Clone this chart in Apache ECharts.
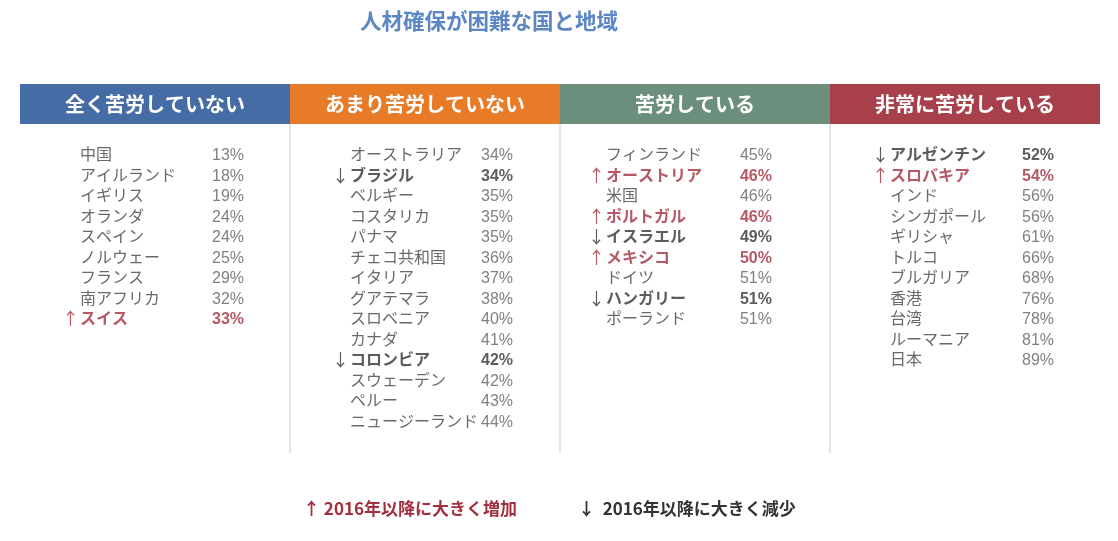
<!DOCTYPE html>
<html>
<head>
<meta charset="utf-8">
<script src="https://cdn.jsdelivr.net/npm/echarts@6/dist/echarts.min.js"></script>
<style>html,body{margin:0;padding:0;background:#fff;}#c{width:1118px;height:541px;}</style>
</head>
<body>
<div id="c"></div>
<script>
// ---- data ----
const categories = ['全く苦労していない', 'あまり苦労していない', '苦労している', '非常に苦労している'];
const headerValues = [1, 1, 1, 1];

const names1 = ['中国', 'アイルランド', 'イギリス', 'オランダ', 'スペイン', 'ノルウェー', 'フランス', '南アフリカ', 'スイス'];
const values1 = [13, 18, 19, 24, 24, 25, 29, 32, 33];
const trend1 = ['', '', '', '', '', '', '', '', 'up'];

const names2 = ['オーストラリア', 'ブラジル', 'ベルギー', 'コスタリカ', 'パナマ', 'チェコ共和国', 'イタリア', 'グアテマラ', 'スロベニア', 'カナダ', 'コロンビア', 'スウェーデン', 'ペルー', 'ニュージーランド'];
const values2 = [34, 34, 35, 35, 35, 36, 37, 38, 40, 41, 42, 42, 43, 44];
const trend2 = ['', 'down', '', '', '', '', '', '', '', '', 'down', '', '', ''];

const names3 = ['フィンランド', 'オーストリア', '米国', 'ポルトガル', 'イスラエル', 'メキシコ', 'ドイツ', 'ハンガリー', 'ポーランド'];
const values3 = [45, 46, 46, 46, 49, 50, 51, 51, 51];
const trend3 = ['', 'up', '', 'up', 'down', 'up', '', 'down', ''];

const names4 = ['アルゼンチン', 'スロバキア', 'インド', 'シンガポール', 'ギリシャ', 'トルコ', 'ブルガリア', '香港', '台湾', 'ルーマニア', '日本'];
const values4 = [52, 54, 56, 56, 61, 66, 68, 76, 78, 81, 89];
const trend4 = ['down', 'up', '', '', '', '', '', '', '', '', ''];

const legendUp = '2016年以降に大きく増加';
const legendDown = '2016年以降に大きく減少';

// ---- styles / layout ----
const headerColors = ['#456ca5', '#e77b28', '#6c8e7d', '#a8404b'];
const RED = '#a3303e', DARK = '#333333', NAME = '#444444', PCT = '#606060';
const JP = '"Noto Sans CJK JP", sans-serif';
const LAT = '"Liberation Sans", Arial, sans-serif';
const nameX = [0.222, 0.222, 0.170, 0.222];
const pctX = [0.830, 0.826, 0.785, 0.830];

const cols = [
  [names1, values1, trend1],
  [names2, values2, trend2],
  [names3, values3, trend3],
  [names4, values4, trend4]
];

const nameData = [], pctData = [], arrowData = [];
cols.forEach(([names, vals, trend], c) => {
  names.forEach((n, i) => {
    const t = trend[i];
    const color = t === 'up' ? RED : (t === 'down' ? DARK : NAME);
    const bold = t ? 'bold' : 'normal';
    nameData.push({ value: [c + nameX[c], i], name: n,
      label: { color: color, fontWeight: bold } });
    pctData.push({ value: [c + pctX[c], i], name: vals[i] + '%',
      label: { color: t === 'up' ? RED : (t === 'down' ? DARK : PCT), fontWeight: bold } });
    if (t) {
      arrowData.push({ value: [c + nameX[c], i], name: t === 'up' ? '↑' : '↓',
        label: { color: t === 'up' ? RED : DARK } });
    }
  });
});

const chart = echarts.init(document.getElementById('c'), null, { renderer: 'canvas' });
chart.setOption({
  backgroundColor: '#ffffff',
  animation: false,
  title: {
    text: '人材確保が困難な国と地域',
    left: 355, top: 5,
    textStyle: { fontFamily: JP, fontSize: 21.5, fontWeight: 'bold', color: '#5b87c4' }
  },
  grid: [
    { left: 20, right: 18, top: 84, height: 40 },
    { left: 20, right: 18, top: 124, height: 329 }
  ],
  xAxis: [
    { type: 'category', gridIndex: 0, data: categories, show: false, boundaryGap: true },
    { type: 'value', gridIndex: 1, min: 0, max: 4, show: false }
  ],
  yAxis: [
    { type: 'value', gridIndex: 0, min: 0, max: 1, show: false },
    { type: 'value', gridIndex: 1, inverse: true, min: -1.512, max: 14.537, show: false }
  ],
  graphic: [
    { type: 'text', left: 303, top: 500,
      style: { text: '↑ ' + legendUp, fill: RED, font: 'bold 17px ' + JP } },
    { type: 'text', left: 578, top: 500,
      style: { text: '↓  ' + legendDown, fill: DARK, font: 'bold 17px ' + JP } }
  ],
  series: [
    {
      type: 'bar', xAxisIndex: 0, yAxisIndex: 0,
      data: headerValues.map((v, i) => ({ value: v, itemStyle: { color: headerColors[i] } })),
      barWidth: '100%', barCategoryGap: 0, silent: true,
      label: { show: true, position: 'inside', formatter: '{b}', color: '#fff',
        fontFamily: JP, fontSize: 20, fontWeight: 'bold' }
    },
    {
      type: 'scatter', xAxisIndex: 1, yAxisIndex: 1, data: nameData,
      symbolSize: 0, silent: true,
      label: { show: true, position: 'right', distance: 0, offset: [0, -1], formatter: '{b}',
        fontFamily: JP, fontSize: 16 },
      markLine: {
        silent: true, symbol: 'none', label: { show: false },
        lineStyle: { color: '#dddddd', type: 'solid', width: 1.5 },
        data: [{ xAxis: 1 }, { xAxis: 2 }, { xAxis: 3 }]
      }
    },
    {
      type: 'scatter', xAxisIndex: 1, yAxisIndex: 1, data: pctData,
      symbolSize: 0, silent: true,
      label: { show: true, position: 'left', distance: 0, offset: [0, 1], formatter: '{b}',
        fontFamily: LAT, fontSize: 16 }
    },
    {
      type: 'scatter', xAxisIndex: 1, yAxisIndex: 1, data: arrowData,
      symbolSize: 0, silent: true,
      label: { show: true, position: 'left', distance: 1, offset: [0, 0], formatter: '{b}',
        fontFamily: JP, fontSize: 17 }
    }
  ]
});
</script>
</body>
</html>
